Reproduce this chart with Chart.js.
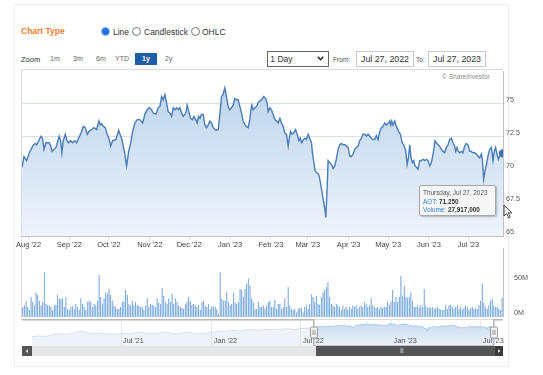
<!DOCTYPE html>
<html>
<head>
<meta charset="utf-8">
<script src="https://cdn.jsdelivr.net/npm/chart.js@4.4.1/dist/chart.umd.min.js"></script>
<style>
  body { margin: 0; background: #fff; font-family: "Liberation Sans", Arial, sans-serif; }
  #page { position: relative; width: 543px; height: 375px; overflow: hidden; }
  #page div, #page span, #page canvas, #page svg { position: absolute; }
  #card { left: 14px; top: 4px; width: 493px; height: 361px; border: 1px solid #ececec; }
  #chartBox { left: 21px; top: 69px; width: 481px; height: 249px; border: 1px solid #dcdcdc; border-right: none; }
  .txt { white-space: nowrap; color: #333; }
  .radio { width: 7px; height: 7px; border-radius: 50%; border: 1px solid #777; background: #fff; }
  .radio.on { background: #1f74dc; border-color: #8fb8ea; }
  .zbtn { font-size: 7px; color: #666; top: 55px; }
  .box { border: 1px solid #c8c8c8; font-size: 8.8px; color: #333; text-align: center; line-height: 14px; height: 14px; }
  #tip { left: 419px; top: 185px; width: 75px; height: 29px; background: rgba(247,247,247,0.95);
         border: 1px solid #a8a8a8; border-radius: 2px; box-shadow: 1px 1px 2px rgba(0,0,0,0.25); }
  #tip div { position: absolute; left: 3px; font-size: 6.4px; white-space: nowrap; color: #333; }
  #tip .k { position: static; color: #2f7ed8; }
</style>
</head>
<body>
<div id="page">
  <div id="card"></div>

  <span class="txt" style="left:21px; top:26px; font-size:8.5px; font-weight:bold; color:#f47c2c;">Chart Type</span>
  <span class="radio on" style="left:101px; top:27px;"></span>
  <span class="txt" style="left:113px; top:26.5px; font-size:8.5px;">Line</span>
  <span class="radio" style="left:132px; top:27px;"></span>
  <span class="txt" style="left:144px; top:26.5px; font-size:8.5px;">Candlestick</span>
  <span class="radio" style="left:191px; top:27px;"></span>
  <span class="txt" style="left:202px; top:26.5px; font-size:8.5px;">OHLC</span>

  <span class="txt" style="left:21px; top:55px; font-size:7.5px;">Zoom</span>
  <span class="txt zbtn" style="left:50px;">1m</span>
  <span class="txt zbtn" style="left:73px;">3m</span>
  <span class="txt zbtn" style="left:96px;">6m</span>
  <span class="txt zbtn" style="left:115px;">YTD</span>
  <span class="txt" style="left:135px; top:53px; width:22px; height:12px; background:#1d5ea8; color:#fff; font-size:7px; font-weight:bold; text-align:center; line-height:12px;">1y</span>
  <span class="txt zbtn" style="left:165px;">2y</span>

  <div class="box" style="left:267px; top:51px; width:60px; border-color:#666; text-align:left; font-size:8.5px;">&nbsp;1 Day</div>
  <svg style="left:317px; top:56px;" width="7" height="5" viewBox="0 0 7 5"><path d="M0.8 0.8 L3.5 3.8 L6.2 0.8" fill="none" stroke="#222" stroke-width="1.4"/></svg>
  <span class="txt" style="left:333px; top:56px; font-size:6.6px; color:#555;">From:</span>
  <div class="box" style="left:356px; top:51px; width:56px;">Jul 27, 2022</div>
  <span class="txt" style="left:416px; top:56px; font-size:6.6px; color:#555;">To:</span>
  <div class="box" style="left:428px; top:51px; width:56px;">Jul 27, 2023</div>

  <div id="chartBox"></div>
  <span class="txt" style="left:442px; top:73px; font-size:6.6px; color:#888;">© ShareInvestor</span>

  <canvas id="priceChart" width="543" height="186" style="left:0; top:66px;"></canvas>
  <canvas id="volumeChart" width="543" height="69" style="left:0; top:248px;"></canvas>
  <canvas id="navChart" width="543" height="27" style="left:0; top:319px;"></canvas>

  <!-- scrollbar -->
  <div style="left:22px; top:346px; width:481px; height:10px; background:#e6e6e6;"></div>
  <div style="left:22px; top:346px; width:10px; height:10px; background:#555;"></div>
  <svg style="left:25px; top:349px;" width="4" height="4"><path d="M3 0 L0.5 2 L3 4 Z" fill="#ddd"/></svg>
  <div id="thumb" style="left:316px; top:346px; width:179px; height:10px; background:#555;"></div>
  <span class="txt" style="left:400px; top:347px; font-size:6px; color:#ddd; letter-spacing:-0.5px;">|||</span>
  <div style="left:495px; top:346px; width:8px; height:10px; background:#3a3a3a;"></div>
  <svg style="left:497px; top:349px;" width="4" height="4"><path d="M1 0 L3.5 2 L1 4 Z" fill="#ddd"/></svg>

  <div id="tip">
    <div id="tipDate" style="top:3px; color:#555;"></div>
    <div style="top:11.5px;"><span class="k">AOT:</span> <b id="tipPrice"></b></div>
    <div style="top:20px;"><span class="k">Volume:</span> <b id="tipVol"></b></div>
  </div>
  <svg style="left:503px; top:204px;" width="10" height="15" viewBox="0 0 10 15">
    <path d="M1 1 L1 12 L3.6 9.6 L5.6 14 L7.3 13.2 L5.3 8.9 L8.8 8.9 Z" fill="#fff" stroke="#333" stroke-width="0.9"/>
  </svg>
</div>

<script>
// Price series: calendar days after Jul 27, 2022 and closing price (THB)
const priceDays = [
  0, 1.5, 3.5, 5.6, 8.1, 9.9, 11.1, 13.1, 14.4, 15.6, 16.7, 18.2, 20.7, 21.8, 22.8, 24.3, 25.8, 26.8, 28.3, 29.3,
  30.3, 31.3, 32.9, 33.9, 35.2, 36.9, 38.4, 40.2, 41.5, 43, 45.3, 46.5, 48, 49.6, 50.8, 52.9, 54.6, 56.7, 58.4, 59.4,
  60.5, 61.7, 63.2, 64.7, 66.2, 67.3, 68.8, 71.3, 73.4, 74.4, 75.9, 78.1, 79.4, 81, 82.5, 84, 85.7, 87.5, 89.5,
  91.6, 93.3, 95.1, 96.6, 98.4, 99.6, 101.7, 103.4, 104.7, 106, 107.2, 108.5, 109.8, 111, 112.3, 113.6, 114.8, 116.1,
  117.4, 118.6, 119.9, 121.2, 122.4, 124.4, 125.4, 126.9, 128, 129.5, 130.5, 132, 133, 134.1, 135.1, 136.3, 137.6,
  138.8, 140.1, 141.4, 142.6, 143.9, 145.2, 146.4, 147.7, 149, 150.2, 151.5, 152.7, 154, 154.8, 155.8, 156.5, 157.8,
  159.1, 160.3, 161.6, 162.9, 164.1, 165.4, 166.7, 167.9, 170, 171.7, 173, 173.8, 174.5, 175.5, 176.8, 178.1, 179.3,
  180.6, 181.8, 183.6, 185.1, 186.1, 186.9, 188.2, 189.4, 190.7, 192, 193.2, 194.5, 195.8, 197, 198.3, 199.5, 200.8,
  202.1, 202.8, 203.9, 205.1, 206.4, 207.7, 208.9, 210.2, 211.2, 212.4, 213.7, 215, 216, 217.3, 218.5, 219.8, 220.5,
  221.6, 222.6, 223.6, 225.1, 226.1, 227.4, 228.6, 229.9, 230.7, 231.7, 232.4, 233.7, 235, 236.2, 237.5, 238.8, 240,
  241.3, 242.6, 243.8, 245.1, 246.4, 247.6, 248.9, 250.1, 251.4, 252.7, 253.9, 255.2, 256.4, 257.7, 259, 260.2,
  261.5, 262.8, 264, 265.3, 266.5, 267.8, 269.1, 270.3,
  271.6, 272.9, 274.1, 275.4, 276.7, 277.9, 279.2, 280, 280.7, 281.7, 283, 283.8, 284.7, 286, 287.3, 288.6, 289.8,
  291.4, 292.4, 293.4, 294.4, 295.4, 296.4, 297.4, 298.4, 299.5, 300.7, 302, 303.2, 304.5, 305.8, 307, 308.3, 309.6,
  310.8, 312.1, 313.6, 314.6, 315.9, 317.1, 318.4, 319.7, 320.9, 322.2, 323.5, 324.7, 326, 327.2, 328.5, 329.3,
  330.3, 331.3, 332.3, 333.6, 334.8, 336.1, 337.4, 338.6, 339.9, 341.2, 342.4, 343.7, 345, 346.2, 347.5, 348.8,
  349.5, 350.5, 351.5, 352.6, 353.8, 355.1, 356.4, 357.6, 358.6, 359.6, 360.6, 361.7, 362.7, 363.9, 365.2
];
const priceValues = [
  70.2, 71.0, 70.7, 71.3, 71.8, 72.0, 71.9, 72.3, 72.55, 72.4, 71.55, 72.05, 72.05, 71.8, 71.4, 71.55, 71.7, 72.05, 72.55, 72.2,
  71.3, 72.2, 72.7, 72.3, 72.05, 72.2, 72.05, 72.2, 72.05, 72.4, 72.9, 73.3, 73.2, 72.7, 72.9, 73.05, 73.2, 73.05, 73.7, 73.4,
  73.5, 73.3, 73.2, 72.7, 72.3, 71.8, 72.2, 72.3, 73.0, 72.7, 72.3, 71.2, 70.3, 71.4, 72.05, 72.9, 73.55, 73.8, 73.8,
  73.55, 74.2, 74.55, 74.7, 74.55, 74.3, 74.2, 74.7, 74.8, 75.55, 75.3, 75.7, 75.05, 74.4, 74.3, 74.05, 74.7, 74.55,
  74.7, 74.55, 74.7, 74.3, 74.05, 74.3, 74.9, 74.3, 73.9, 73.8, 74.05, 73.8, 73.55, 74.05, 73.9, 74.2, 74.2,
  73.4, 73.2, 73.4, 73.7, 73.55, 73.2, 73.05, 73.0, 73.05, 74.2, 75.55, 75.7, 76.2, 75.8, 75.2, 74.8, 74.55,
  74.7, 74.9, 75.4, 75.3, 75.3, 74.8, 74.3, 73.7, 73.3, 73.2, 73.8, 74.55, 74.9, 74.55, 74.7, 74.8, 75.1,
  75.2, 75.3, 75.55, 75.4, 75.05, 74.4, 74.7, 74.55, 74.2, 73.8, 73.7, 73.55, 73.9, 73.55, 73.3, 72.8, 72.7,
  71.8, 72.3, 72.9, 72.7, 72.8, 73.05, 72.7, 72.2, 72.4, 72.05, 72.3, 72.4, 72.3, 72.7, 72.4, 72.05, 71.3,
  70.55, 69.9, 69.8, 69.7, 69.3, 68.55, 67.8, 67.05, 66.4, 68.7, 70.7, 70.55, 70.4, 70.1, 70.3, 70.9, 71.55,
  71.9, 72.0, 71.9, 71.9, 71.8, 71.7, 71.05, 71.0, 71.2, 71.55, 71.7, 71.8, 72.2, 72.4, 72.7, 72.7,
  72.55, 72.7, 72.55, 72.4, 72.3, 72.3, 72.6, 72.3,
  72.9, 73.2, 73.3, 73.55, 73.4, 73.5, 73.7, 73.4, 73.7, 73.4, 73.7, 73.4, 73.2, 72.9, 72.7, 72.05, 71.9,
  71.4, 70.4, 70.9, 71.9, 70.9, 70.55, 70.7, 70.3, 70.2, 70.05, 70.7, 70.7, 70.8, 70.7, 70.8, 70.7, 70.3,
  70.55, 71.2, 72.2, 72.05, 71.9, 71.8, 71.55, 71.4, 71.3, 71.7, 71.9, 72.3, 72.4, 72.05, 71.8, 71.4,
  71.7, 71.4, 71.3, 71.4, 71.3, 71.8, 72.0, 71.9, 71.4, 71.4, 71.3, 71.3, 71.2, 71.05, 70.9, 71.2,
  70.8, 69.3, 69.9, 70.4, 71.05, 71.55, 71.7, 70.7, 71.4, 71.7, 71.2, 70.8, 71.05, 71.3, 71.25
];

// Daily volume, millions of shares
const volumeValues = [
  15, 17, 24, 15, 10, 29, 22, 17, 36, 32, 24, 17, 22, 65, 19, 17, 17, 15, 10, 17,
  18, 32, 27, 26, 27, 15, 29, 12, 11, 15, 16, 12, 19, 15, 11, 27, 19, 15, 10, 22,
  24, 22, 15, 19, 17, 24, 61, 29, 19, 27, 36, 34, 41, 32, 24, 17, 15, 12, 12, 15,
  22, 23, 40, 32, 19, 17, 24, 17, 22, 17, 17, 15, 15, 10, 17, 27, 15, 19, 18, 17,
  15, 27, 21, 19, 42, 31, 22, 19, 27, 22, 34, 19, 27, 22, 17, 15, 13, 12, 19, 22,
  29, 24, 18, 19, 17, 15, 18, 10, 22, 24, 17, 15, 19, 12, 16, 15, 15, 12, 5, 65,
  27, 24, 24, 37, 22, 17, 19, 36, 22, 19, 22, 41, 39, 29, 41, 49, 56, 46, 27, 22,
  12, 12, 22, 15,
  15, 17, 12, 17, 22, 24, 15, 15, 25, 12, 19, 19, 12, 15, 27, 15, 44, 17, 12, 10,
  12, 7, 12, 13, 13, 7, 15, 18, 12, 19, 33, 29, 22, 31, 19, 18, 29, 36, 39, 44,
  51, 29, 19, 17, 15, 19, 17, 15, 10, 17, 12, 15, 10, 15, 12, 17, 15, 17, 12, 15,
  17, 15, 22, 19, 15, 17, 27, 17, 15, 13, 15, 12, 15, 13, 15, 15, 22, 18, 23, 39,
  22, 29, 22, 29, 60, 31, 45, 29, 28, 29, 36, 24, 15, 15, 17, 13, 18, 15, 41, 17,
  13, 15, 13, 15, 12, 13, 15, 12, 11, 11, 10, 18, 12, 17, 18, 15, 12, 15, 17, 12,
  15, 11, 13, 17, 15, 10, 13, 15, 12, 13, 12, 18, 24, 49, 21, 15, 12, 17, 24, 27,
  17, 15, 15, 12, 10, 27.917
];

// Navigator history before the selected year (days relative to Jul 27, 2022)
const historyDays = [
  -572, -558, -544, -530, -516, -502, -488, -474, -460, -446, -432, -418, -404, -390, -376, -362, -348, -334, -320, -306,
  -292, -278, -264, -250, -236, -222, -208, -194, -180, -166, -152, -138, -124, -110, -96, -82, -68, -54, -40, -26, -12
];
const historyValues = [
  58.5, 59.5, 58.8, 61, 62.5, 61.5, 63.5, 66, 64, 62.5, 63.5, 62, 61.5, 63, 62, 63.5, 64, 62.5, 63, 64.5,
  63.5, 62, 63.5, 64, 62.5, 63, 64.5, 66, 65.5, 67, 66, 67.5, 68, 67, 68.5, 67.5, 68.5, 69, 68, 69.5, 70
];

// Axis ticks
const monthTicks = [5, 36, 66, 97, 127, 158, 189, 217, 248, 278, 309, 339];
const monthLabels = ["Aug '22", "Sep '22", "Oct '22", "Nov '22", "Dec '22", "Jan '23", "Feb '23", "Mar '23", "Apr '23", "May '23", "Jun '23", "Jul '23"];
const priceTicks = [65, 67.5, 70, 72.5, 75];
const volumeTicks = [0, 50];
const navTicks = [-391, -207, -26, 158, 339];
const navLabels = ["Jul '21", "Jan '22", "Jul '22", "Jan '23", "Jul '23"];

const FONT = '"Liberation Sans", Arial, sans-serif';
Chart.defaults.font.family = FONT;
Chart.defaults.animation = false;
Chart.defaults.responsive = false;
Chart.defaults.plugins.legend.display = false;
Chart.defaults.plugins.tooltip.enabled = false;

const lastIndex = priceValues.length - 1;
const lastDay = priceDays[lastIndex];

function fixedTicks(list) {
  return (scale) => { scale.ticks = list.map((v) => ({ value: v })); };
}

function verticalGradient(top, bottom) {
  return (context) => {
    const { ctx, chartArea } = context.chart;
    if (!chartArea) return top;
    const g = ctx.createLinearGradient(0, chartArea.top, 0, chartArea.bottom);
    g.addColorStop(0, top);
    g.addColorStop(1, bottom);
    return g;
  };
}

// Price chart
new Chart(document.getElementById("priceChart"), {
  type: "line",
  data: {
    datasets: [{
      data: priceDays.map((d, i) => ({ x: d, y: priceValues[i] })),
      borderColor: "#4a7cb8",
      borderWidth: 1.4,
      tension: 0,
      fill: "start",
      backgroundColor: verticalGradient("#b9d1ec", "#eef4fb"),
      pointRadius: (c) => (c.dataIndex === lastIndex ? 3.5 : 0),
      pointBackgroundColor: "#3a6fb3",
      pointBorderColor: "#3a6fb3",
    }],
  },
  options: {
    layout: { padding: { left: 22, top: 4 } },
    scales: {
      x: {
        type: "linear",
        min: 0,
        max: lastDay,
        afterBuildTicks: fixedTicks(monthTicks),
        ticks: {
          callback: (v, i) => monthLabels[i],
          autoSkip: false,
          maxRotation: 0,
          padding: 1,
          font: { size: 7.5 },
          color: "#444",
        },
        grid: { drawOnChartArea: false, tickLength: 3, color: "#c4d2e2" },
        border: { color: "#c0c0c0" },
        afterFit: (s) => { s.height = 16; s.paddingLeft = 0; s.paddingRight = 0; },
      },
      y: {
        position: "right",
        min: 65,
        max: 77.45,
        afterBuildTicks: fixedTicks(priceTicks),
        ticks: {
          callback: (v) => String(v),
          labelOffset: -4,
          padding: 3,
          font: { size: 7.2 },
          color: "#555",
        },
        grid: { color: "#d8e0e9", drawTicks: false },
        border: { display: true, color: "#c0c0c0" },
        afterFit: (s) => { s.width = 40; s.paddingTop = 0; s.paddingBottom = 0; },
      },
    },
  },
});

// Volume chart
new Chart(document.getElementById("volumeChart"), {
  type: "bar",
  data: {
    labels: volumeValues.map((_, i) => i),
    datasets: [{
      data: volumeValues,
      backgroundColor: "#6aa3df",
      borderColor: "#3d7cc6",
      borderWidth: { left: 0.6, right: 0, top: 0, bottom: 0 },
      barPercentage: 1,
      categoryPercentage: 0.8,
    }],
  },
  options: {
    layout: { padding: { left: 22 } },
    scales: {
      x: { display: false },
      y: {
        position: "right",
        min: 0,
        max: 100,
        afterBuildTicks: fixedTicks(volumeTicks),
        ticks: {
          callback: (v) => v + "M",
          labelOffset: -4,
          padding: 3,
          font: { size: 7.2 },
          color: "#555",
        },
        grid: { display: false },
        border: { display: true, color: "#c0c0c0" },
        afterFit: (s) => { s.width = 40; s.paddingTop = 0; s.paddingBottom = 0; },
      },
    },
  },
});

// Navigator labels, outline and handles
const navigatorFrame = {
  id: "navigatorFrame",
  afterDraw(chart) {
    const { ctx, chartArea: a, scales } = chart;
    const x0 = scales.x.getPixelForValue(priceDays[0]);
    const x1 = scales.x.getPixelForValue(lastDay);
    const top = a.top + 0.75;
    ctx.save();

    ctx.font = "7.3px " + FONT;
    ctx.fillStyle = "#555";
    ctx.textBaseline = "middle";
    ctx.textAlign = "left";
    navTicks.forEach((v, i) => {
      ctx.fillText(navLabels[i], scales.x.getPixelForValue(v) + 2, a.bottom - 5);
    });

    ctx.strokeStyle = "#b5b5b5";
    ctx.lineWidth = 1.5;
    ctx.beginPath();
    ctx.moveTo(a.left, top);
    ctx.lineTo(x0, top);
    ctx.lineTo(x0, a.bottom);
    ctx.lineTo(x1, a.bottom);
    ctx.lineTo(x1, top);
    ctx.lineTo(a.right, top);
    ctx.stroke();

    const hy = (a.top + a.bottom) / 2;
    [x0, x1].forEach((x) => {
      ctx.fillStyle = "#f2f2f2";
      ctx.strokeStyle = "#999";
      ctx.lineWidth = 1;
      ctx.beginPath();
      ctx.roundRect(Math.round(x) - 3.5, hy - 5.5, 7, 11, 1.5);
      ctx.fill();
      ctx.stroke();
      ctx.beginPath();
      ctx.moveTo(Math.round(x) - 1, hy - 2.5);
      ctx.lineTo(Math.round(x) - 1, hy + 2.5);
      ctx.moveTo(Math.round(x) + 1, hy - 2.5);
      ctx.lineTo(Math.round(x) + 1, hy + 2.5);
      ctx.stroke();
    });
    ctx.restore();
  },
};

new Chart(document.getElementById("navChart"), {
  type: "line",
  data: {
    datasets: [
      {
        data: historyDays.map((d, i) => ({ x: d, y: historyValues[i] }))
          .concat([{ x: priceDays[0], y: priceValues[0] }]),
        borderColor: "rgba(170,198,230,0.45)",
        borderWidth: 1,
        pointRadius: 0,
        fill: "start",
        backgroundColor: "rgba(205,222,242,0.35)",
      },
      {
        data: priceDays.map((d, i) => ({ x: d, y: priceValues[i] })),
        borderColor: "#a9c7e8",
        borderWidth: 1,
        pointRadius: 0,
        fill: "start",
        backgroundColor: verticalGradient("#c2d8ef", "#edf3fa"),
      },
    ],
  },
  options: {
    layout: { padding: { left: 22, right: 40 } },
    scales: {
      x: {
        type: "linear",
        min: -592,
        max: 384,
        afterBuildTicks: fixedTicks(navTicks),
        ticks: { display: false },
        grid: { color: "#e9e9e9", drawTicks: false },
        border: { display: false },
        afterFit: (s) => { s.height = 0; s.paddingLeft = 0; s.paddingRight = 0; },
      },
      y: { display: false, min: 46, max: 82 },
    },
  },
  plugins: [navigatorFrame],
});

// Tooltip text for the last point
document.getElementById("tipDate").textContent = "Thursday, Jul 27, 2023";
document.getElementById("tipPrice").textContent = priceValues[lastIndex].toFixed(3);
document.getElementById("tipVol").textContent =
  Math.round(volumeValues[volumeValues.length - 1] * 1e6).toLocaleString("en-US");
</script>
</body>
</html>
